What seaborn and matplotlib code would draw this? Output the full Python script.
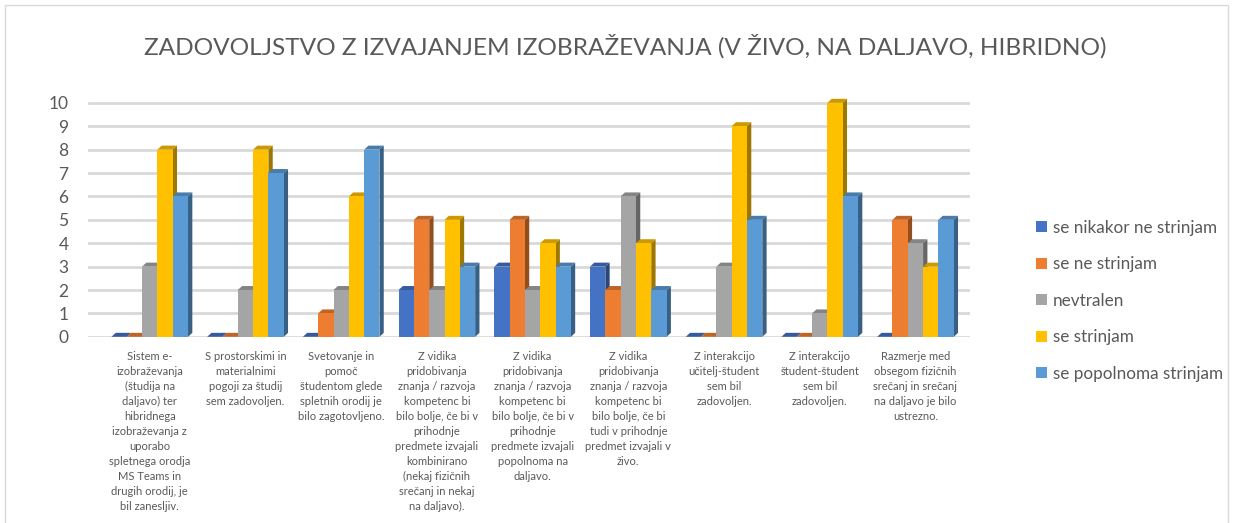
import numpy as np
import pandas as pd
import matplotlib
matplotlib.use("Agg")
import matplotlib.pyplot as plt
import seaborn as sns
from matplotlib.patches import Polygon, Rectangle
from matplotlib.colors import to_rgb

# --- data ---------------------------------------------------------------
categories = [
    "Sistem e-\nizobraževanja\n(študija na\ndaljavo) ter\nhibridnega\nizobraževanja z\nuporabo\nspletnega orodja\nMS Teams in\ndrugih orodij, je\nbil zanesljiv.",
    "S prostorskimi in\nmaterialnimi\npogoji za študij\nsem zadovoljen.",
    "Svetovanje in\npomoč\nštudentom glede\nspletnih orodij je\nbilo zagotovljeno.",
    "Z vidika\npridobivanja\nznanja / razvoja\nkompetenc bi\nbilo bolje, če bi v\nprihodnje\npredmete izvajali\nkombinirano\n(nekaj fizičnih\nsrečanj in nekaj\nna daljavo).",
    "Z vidika\npridobivanja\nznanja / razvoja\nkompetenc bi\nbilo bolje, če bi v\nprihodnje\npredmete izvajali\npopolnoma na\ndaljavo.",
    "Z vidika\npridobivanja\nznanja / razvoja\nkompetenc bi\nbilo bolje, če bi\ntudi v prihodnje\npredmet izvajali v\nživo.",
    "Z interakcijo\nučitelj-študent\nsem bil\nzadovoljen.",
    "Z interakcijo\nštudent-študent\nsem bil\nzadovoljen.",
    "Razmerje med\nobsegom fizičnih\nsrečanj in srečanj\nna daljavo je bilo\nustrezno.",
]
series = ["se nikakor ne strinjam", "se ne strinjam", "nevtralen",
          "se strinjam", "se popolnoma strinjam"]
nikakor_ne = [0, 0, 0, 2, 3, 3, 0, 0, 0]
ne_strinjam = [0, 0, 1, 5, 5, 2, 0, 0, 5]
nevtralen = [3, 2, 2, 2, 2, 6, 3, 1, 4]
strinjam = [8, 8, 6, 5, 4, 4, 9, 10, 3]
popolnoma = [6, 7, 8, 3, 3, 2, 5, 6, 5]
colors = ["#4472C4", "#ED7D31", "#A5A5A5", "#FFC000", "#5B9BD5"]
title = "ZADOVOLJSTVO Z IZVAJANJEM IZOBRAŽEVANJA (V ŽIVO, NA DALJAVO, HIBRIDNO)"

values = [nikakor_ne, ne_strinjam, nevtralen, strinjam, popolnoma]
df = pd.DataFrame({
    "cat": np.tile(np.arange(len(categories)), len(series)),
    "serie": np.repeat(series, len(categories)),
    "val": np.concatenate(values),
})

sns.set_style("white")
plt.rcParams["font.family"] = ["Lato", "DejaVu Sans"]
grey = "#595959"

fig = plt.figure(figsize=(12.33, 5.23), dpi=100)
ax = fig.add_axes([88 / 1233, 0.356, 882 / 1233, 0.4564])

sns.barplot(data=df, x="cat", y="val", hue="serie", hue_order=series,
            palette=colors, width=0.8, gap=0.0, saturation=1.0,
            errorbar=None, ax=ax, zorder=3, linewidth=0)

# fake 3D depth: side and top faces built from each bar patch
dx, dy = 0.045, 0.17
for patch in list(ax.patches):
    x0, w, h = patch.get_x(), patch.get_width(), patch.get_height()
    if np.isnan(h):
        continue
    x1 = x0 + w
    r, g, b = to_rgb(patch.get_facecolor())
    side = (r * 0.62, g * 0.62, b * 0.62)
    top = (r * 0.8, g * 0.8, b * 0.8)
    ax.add_patch(Polygon([(x1, 0), (x1 + dx, dy), (x1 + dx, h + dy), (x1, h)],
                         closed=True, facecolor=side, lw=0, zorder=2.9))
    ax.add_patch(Polygon([(x0, h), (x0 + dx, h + dy), (x1 + dx, h + dy), (x1, h)],
                         closed=True, facecolor=top, lw=0, zorder=2.9))

ax.set_ylim(0, 10.2)
ax.set_xlim(-0.645, len(categories) - 1 + 0.57)
ax.set_yticks(range(0, 11))
ax.yaxis.grid(True, color="#d9d9d9", linewidth=2)
ax.set_axisbelow(True)
for s in ax.spines.values():
    s.set_visible(False)
ax.set_xlabel("")
ax.set_ylabel("")
ax.set_xticks(range(len(categories)))
ax.set_xticklabels(categories, fontsize=8, color=grey, linespacing=1.45,
                   va="top", ha="center")
ax.tick_params(axis="x", length=0, pad=10)
ax.tick_params(axis="y", length=0, labelsize=12.5, labelcolor=grey, pad=14)

handles, labels = ax.get_legend_handles_labels()
fig.legend(handles, labels, loc="center left", bbox_to_anchor=(0.828, 0.425),
           frameon=False, fontsize=12.3, labelcolor=grey, handlelength=0.6,
           handleheight=0.6, handletextpad=0.35, labelspacing=1.2)
ax.get_legend().remove()

fig.text(0.507, 0.912, title, ha="center", va="center", fontsize=17.6,
         color=grey, fontweight="normal")

fig.patches.append(Rectangle((0.004, -0.02), 0.992, 1.01, transform=fig.transFigure,
                             fill=False, edgecolor="#d9d9d9", lw=1))

fig.savefig("out.png", dpi=100)
